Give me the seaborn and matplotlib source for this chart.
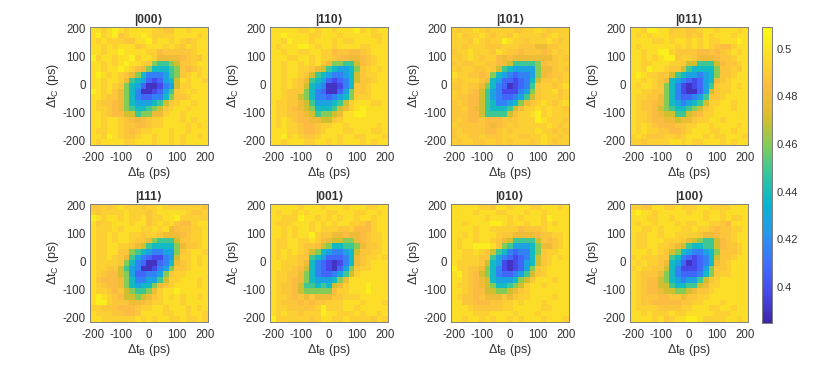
import numpy as np
import seaborn as sns
import matplotlib.pyplot as plt
from matplotlib.colors import LinearSegmentedColormap

# cell readings, one letter/digit per cell, top row is +200 ps
LEVELS = {'a': 0.390, 'b': 0.398, 'c': 0.407, 'd': 0.416, 'e': 0.427, 'f': 0.438,
          'g': 0.449, 'h': 0.460, 'i': 0.470, 'j': 0.479,
          '5': 0.484, '6': 0.488, '7': 0.492, '8': 0.497, '9': 0.504}

S000 = ["887898788887766887888", "897896788987777888878", "878777668897887876788",
        "887878886788878768788", "887889888877566666788", "978878897887jjjj56768",
        "88787898876hgghi66788", "887889875jhfffgh65678", "8987876jhfdddegh67878",
        "887887jgfecbcefi87887", "887876hfecaabdei77888", "98786jhfdaabceg678788",
        "88766jhfdccddfh667888", "87665jhfeeefgi6788788", "87765jhgffghi67887888",
        "887655iighhjj78878888", "88788765j567788878788", "887887665567788887878",
        "877887656778887887888", "887987667887887878878", "878888778887887878888"]
S110 = ["888887787887888978788", "889888877888788888778", "887988878887877888878",
        "878889987887888877888", "887887788775665567888", "88877887877655jj56788",
        "8878878786jhhggi56788", "88788776jigfeefh67878", "8878876igfeddefi67788",
        "887876jgfecbcdfi66788", "887876ifedaabdf667888", "887666hfdcaaceh667888",
        "88766ihfddcdefh777888", "87766jigeeefgi7888778", "87765jihfffgij7898888",
        "877665jighhij88998888", "8787655jjii6788888888", "878776556778878888878",
        "888776556788877888778", "889787667888788778887", "887888778878788878788"]
S101 = ["767787677776677876777", "786778767768777767877", "777687677987767778767",
        "776777666777666jj6677", "677877768766566656767", "767876775j5jjjjjjj676",
        "676677665jiggggh56677", "76776676igfeeeehjj676", "8776656hfedcddehj5667",
        "767776jfeccbcdfi66767", "66766jhfdcabcdg677678", "76765igedbbbdeh677867",
        "76655igedccdegi677767", "67655igfddefhj6787678", "6675jigfffgi577878776",
        "66655iggggi5778978777", "676556555666777987776", "7666665j5676777778767",
        "676666556767777877676", "677667666777667787767", "767766776767776787677"]
S011 = ["887998867766788788878", "878788877767687888788", "888877878878787788898",
        "878888887878787655788", "887889976666556567878", "887878996776jjj566788",
        "8877888776iigggi56678", "887988766igffffh66768", "8987766igfeedefh66788",
        "887876jfedcbcefj67888", "878876hfdbabceg677878", "887766hfdbaacei677888",
        "87766jhfdccdeg6678888", "87665jhfedefgi7788788", "87665ihgffghi67888788",
        "87765jiiggij577888888", "877655jjijj6778878888", "878765556677887888878",
        "878776655678887788788", "787666776788878778887", "776777788787788878788"]
S111 = ["667678777677877777776", "767777877767888887667", "987887877867788977777",
        "867788878867878655788", "87778788877878j566778", "8778788776776jjj56778",
        "8778788766jhgggi66778", "87788776jigffffhj6678", "8778866hgfeddeeh67887",
        "877876jgedcbbdei77878", "877776hfdcaacdfj67878", "87766igedaabdeh667888",
        "87655iheccddeh6778888", "86555jhfddeegi7788878", "87655jhfeffhj67888878",
        "877656ihgghj788988888", "898765iihij6787878878", "8997666jj567788878888",
        "776665556778878887878", "877766556888877887887", "887777778787887787787"]
S001 = ["888887888788878887788", "878878788877888778878", "887779887878788788788",
        "877788878787887765788", "887878878777667555788", "88787889766jj5jj56778",
        "8778877875jiihhj56778", "877887665ihffgghj6678", "8787876ihfeddefi66778",
        "8787766gfecccdfj67787", "887776jfdcbabdfj67888", "887765ifdcbaceh677888",
        "87766jhfdccdegi788888", "87765jhfeeefhj8888888", "87665iggfgfij78889888",
        "87665ihhhhh5778889888", "877656j6jjj6677788888", "876665656677788878887",
        "877666667977788788888", "878776777988777878878", "977777767887787777687"]
S010 = ["888887768878887788878", "888878887788878878888", "888888788878788879888",
        "887888899878878878788", "888878877777566678888", "88787888766jjjj566778",
        "878878876jiggggi65678", "878899986hgeeefhjj678", "8877876igfdcddfh67788",
        "8877766gedcbcdfi67878", "877776ifebabcefi67888", "97766jhfdbabceh678888",
        "89765ihfdccdegi678888", "88765jifeeefhi6888788", "87765jihffghi78878888",
        "887655iihhij678888888", "876656jjj6j6778888788", "886655566778788878888",
        "888766666778888877888", "888877788887888788888", "887887878878788878887"]
S100 = ["776688778777887777888", "898878888878878878888", "888778878888878878778",
        "878878887877887765888", "887787888778776566778", "8778878877776jj566788",
        "8778887776jihggi56788", "87788776jigffggi56678", "8887876ihfeddefh66678",
        "7877766gfdcbcdfi66788", "878776jfecabcdfj67888", "787766ifdbbbceh667888",
        "87666jhfdcccdfh677888", "87655ihfedeegi6788888", "87655iigffggij7788888",
        "87655jiihhij667888888", "876665566j66778888888", "876655555667788878888",
        "877776666778887788788", "887877787788888777888", "888878678899877778878"]

TOP_ROW = ['|000⟩', '|110⟩', '|101⟩', '|011⟩']
BOTTOM_ROW = ['|111⟩', '|001⟩', '|010⟩', '|100⟩']
PANELS = [S000, S110, S101, S011, S111, S001, S010, S100]
TICKS = [-200, -100, 0, 100, 200]
CBAR_TICKS = [0.4, 0.42, 0.44, 0.46, 0.48, 0.5]
CBAR_LABELS = ['0.4', '0.42', '0.44', '0.46', '0.48', '0.5']

PARULA = [(0.2422, 0.1504, 0.6603), (0.2803, 0.2782, 0.9221), (0.2440, 0.4358, 0.9988),
          (0.1540, 0.5902, 0.9218), (0.0297, 0.7082, 0.8163), (0.1938, 0.7758, 0.6251),
          (0.5044, 0.7993, 0.3480), (0.8634, 0.7406, 0.1596), (0.9856, 0.7372, 0.2537),
          (0.9892, 0.8649, 0.1640), (0.9769, 0.9839, 0.0805)]

sns.set_theme(style='white')
plt.rcParams['font.family'] = ['Liberation Sans', 'DejaVu Sans']
plt.rcParams['mathtext.fontset'] = 'custom'
plt.rcParams['mathtext.rm'] = 'Liberation Sans'
plt.rcParams['mathtext.default'] = 'regular'

GRAY = '#333333'
EDGE = '#7f7f7f'
W, H = 830, 367
LEFTS = [90, 270, 451, 630]
TOPS = [27, 204]
SIZE = 118

cmap = LinearSegmentedColormap.from_list('parula', PARULA, N=256)
fig = plt.figure(figsize=(W / 100, H / 100), dpi=100)
cax = fig.add_axes([761.7 / W, 1 - 322.7 / H, 10.6 / W, 295.4 / H])

names = TOP_ROW + BOTTOM_ROW
for i, (name, rows) in enumerate(zip(names, PANELS)):
    data = np.array([[LEVELS[c] for c in row] for row in rows])
    ax = fig.add_axes([LEFTS[i % 4] / W, 1 - (TOPS[i // 4] + SIZE) / H, SIZE / W, SIZE / H])
    sns.heatmap(data, ax=ax, cmap=cmap, vmin=0.385, vmax=0.509, cbar=i == 0,
                cbar_ax=cax if i == 0 else None, rasterized=True)
    ax.set_xticks([(v + 210) / 20 for v in TICKS], [str(v) for v in TICKS])
    ax.set_yticks([(210 - v) / 20 for v in TICKS], [str(v) for v in TICKS], rotation=0)
    ax.tick_params(direction='in', length=1.5, width=0.6, color=EDGE, labelsize=8.3,
                   labelcolor=GRAY, top=True, right=True, bottom=True, left=True)
    ax.tick_params(axis='x', pad=5)
    ax.tick_params(axis='y', pad=3)
    for side in ax.spines.values():
        side.set_visible(True)
        side.set_color(EDGE)
        side.set_linewidth(0.7)
    ax.set_title(name, fontsize=8.6, fontweight='bold', color=GRAY, pad=3)
    ax.set_xlabel(r'$\Delta t_{B}$ (ps)', fontsize=9, color=GRAY, labelpad=0.5)
    ax.set_ylabel(r'$\Delta t_{C}$ (ps)', fontsize=9, color=GRAY, labelpad=1)

cax.set_yticks(CBAR_TICKS, CBAR_LABELS)
cax.tick_params(direction='in', length=2, width=0.6, color=EDGE, labelsize=8,
                labelcolor=GRAY, pad=3)
for side in cax.spines.values():
    side.set_visible(True)
    side.set_color(EDGE)
    side.set_linewidth(0.7)

fig.savefig('out.png', dpi=100)
